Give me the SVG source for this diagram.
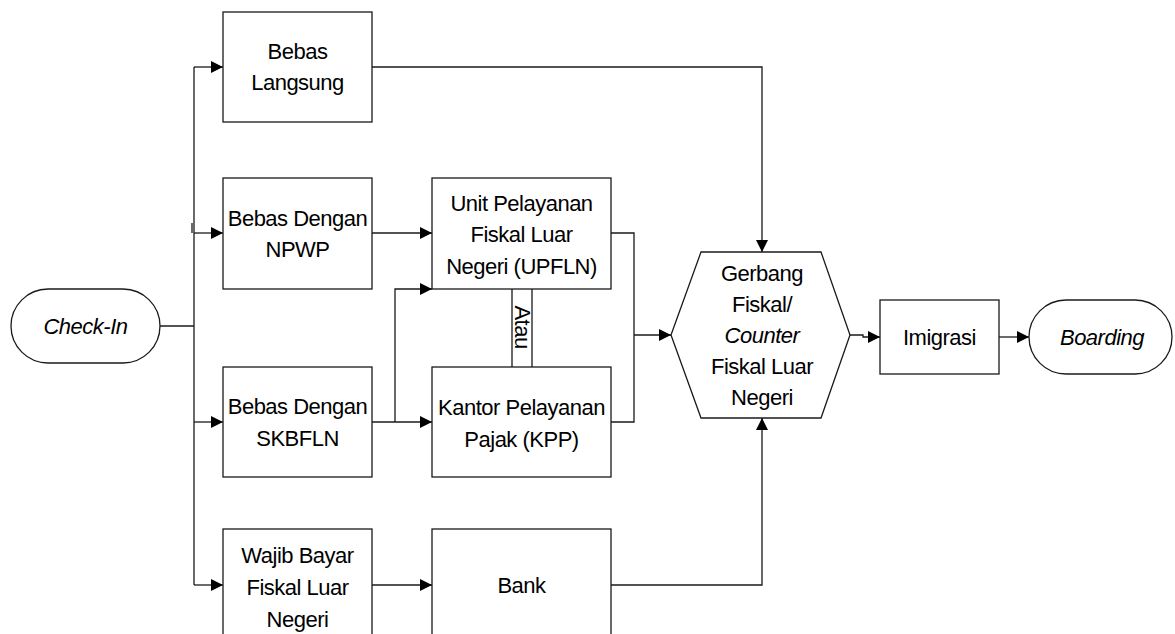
<svg xmlns="http://www.w3.org/2000/svg" width="1175" height="634" viewBox="0 0 1175 634">
<style>
.box{fill:#fff;stroke:#1a1a1a;stroke-width:1.3}
.ln{fill:none;stroke:#1a1a1a;stroke-width:1.3}
.t{font-family:"Liberation Sans",Arial,sans-serif;font-size:22px;letter-spacing:-0.5px;fill:#000;text-anchor:middle}
.i{font-style:italic}
</style>
<defs>
<marker id="ah" markerUnits="userSpaceOnUse" markerWidth="12" markerHeight="12" viewBox="0 0 12 12" refX="12" refY="6" orient="auto">
<path d="M0,0 L12,6 L0,12 Z" fill="#000"/>
</marker>
</defs>
<rect width="1175" height="634" fill="#fff"/>
<g id="connectors">
<path class="ln" d="M160,326 H194"/>
<path class="ln" d="M194,67 V585"/>
<path class="ln" d="M192,223 V233"/>
<path class="ln" d="M194,67 H223" marker-end="url(#ah)"/>
<path class="ln" d="M194,233 H223" marker-end="url(#ah)"/>
<path class="ln" d="M194,422 H223" marker-end="url(#ah)"/>
<path class="ln" d="M194,585 H223" marker-end="url(#ah)"/>
<path class="ln" d="M372,233 H432" marker-end="url(#ah)"/>
<path class="ln" d="M372,422 H432" marker-end="url(#ah)"/>
<path class="ln" d="M395,422 V289 H432" marker-end="url(#ah)"/>
<path class="ln" d="M372,585 H432" marker-end="url(#ah)"/>
<path class="ln" d="M372,67 H762 V252" marker-end="url(#ah)"/>
<path class="ln" d="M611,233 H634 V422 H611"/>
<path class="ln" d="M634,335 H671" marker-end="url(#ah)"/>
<path class="ln" d="M611,585 H762 V418" marker-end="url(#ah)"/>
<path class="ln" d="M850,335 H863 V337 H880" marker-end="url(#ah)"/>
<path class="ln" d="M999,337 H1029" marker-end="url(#ah)"/>
<path class="ln" d="M512,289 V367 M532,289 V367"/>
<text class="t" transform="translate(523,327) rotate(90)" y="8">Atau</text>
</g>
<g id="checkin">
<rect class="box" x="11" y="289" width="149" height="74" rx="37" ry="37"/>
<text class="t i" x="85.5" y="334">Check-In</text>
</g>
<g id="bebas-langsung">
<rect class="box" x="223" y="12" width="149" height="110"/>
<text class="t" x="297.5" y="59">Bebas</text>
<text class="t" x="297.5" y="90">Langsung</text>
</g>
<g id="bebas-npwp">
<rect class="box" x="223" y="178" width="149" height="111"/>
<text class="t" x="297.5" y="226">Bebas Dengan</text>
<text class="t" x="297.5" y="257">NPWP</text>
</g>
<g id="bebas-skbfln">
<rect class="box" x="223" y="367" width="149" height="110"/>
<text class="t" x="297.5" y="414">Bebas Dengan</text>
<text class="t" x="297.5" y="446">SKBFLN</text>
</g>
<g id="wajib">
<rect class="box" x="223" y="529" width="149" height="112"/>
<text class="t" x="297.5" y="563">Wajib Bayar</text>
<text class="t" x="297.5" y="595">Fiskal Luar</text>
<text class="t" x="297.5" y="627">Negeri</text>
</g>
<g id="upfln">
<rect class="box" x="432" y="178" width="179" height="111"/>
<text class="t" x="521.5" y="211">Unit Pelayanan</text>
<text class="t" x="521.5" y="242">Fiskal Luar</text>
<text class="t" x="521.5" y="274">Negeri (UPFLN)</text>
</g>
<g id="kpp">
<rect class="box" x="432" y="367" width="179" height="110"/>
<text class="t" x="521.5" y="415">Kantor Pelayanan</text>
<text class="t" x="521.5" y="447">Pajak (KPP)</text>
</g>
<g id="bank">
<rect class="box" x="432" y="529" width="179" height="112"/>
<text class="t" x="521.5" y="593">Bank</text>
</g>
<g id="gerbang">
<polygon class="box" points="701,252 821,252 850,335 821,418 701,418 671,335"/>
<text class="t" x="762" y="281">Gerbang</text>
<text class="t" x="762" y="312">Fiskal/</text>
<text class="t i" x="762" y="343">Counter</text>
<text class="t" x="762" y="374">Fiskal Luar</text>
<text class="t" x="762" y="405">Negeri</text>
</g>
<g id="imigrasi">
<rect class="box" x="880" y="300" width="119" height="74"/>
<text class="t" x="939.5" y="345">Imigrasi</text>
</g>
<g id="boarding">
<rect class="box" x="1029" y="300" width="143" height="74" rx="37" ry="37"/>
<text class="t i" x="1102" y="345">Boarding</text>
</g>
</svg>
